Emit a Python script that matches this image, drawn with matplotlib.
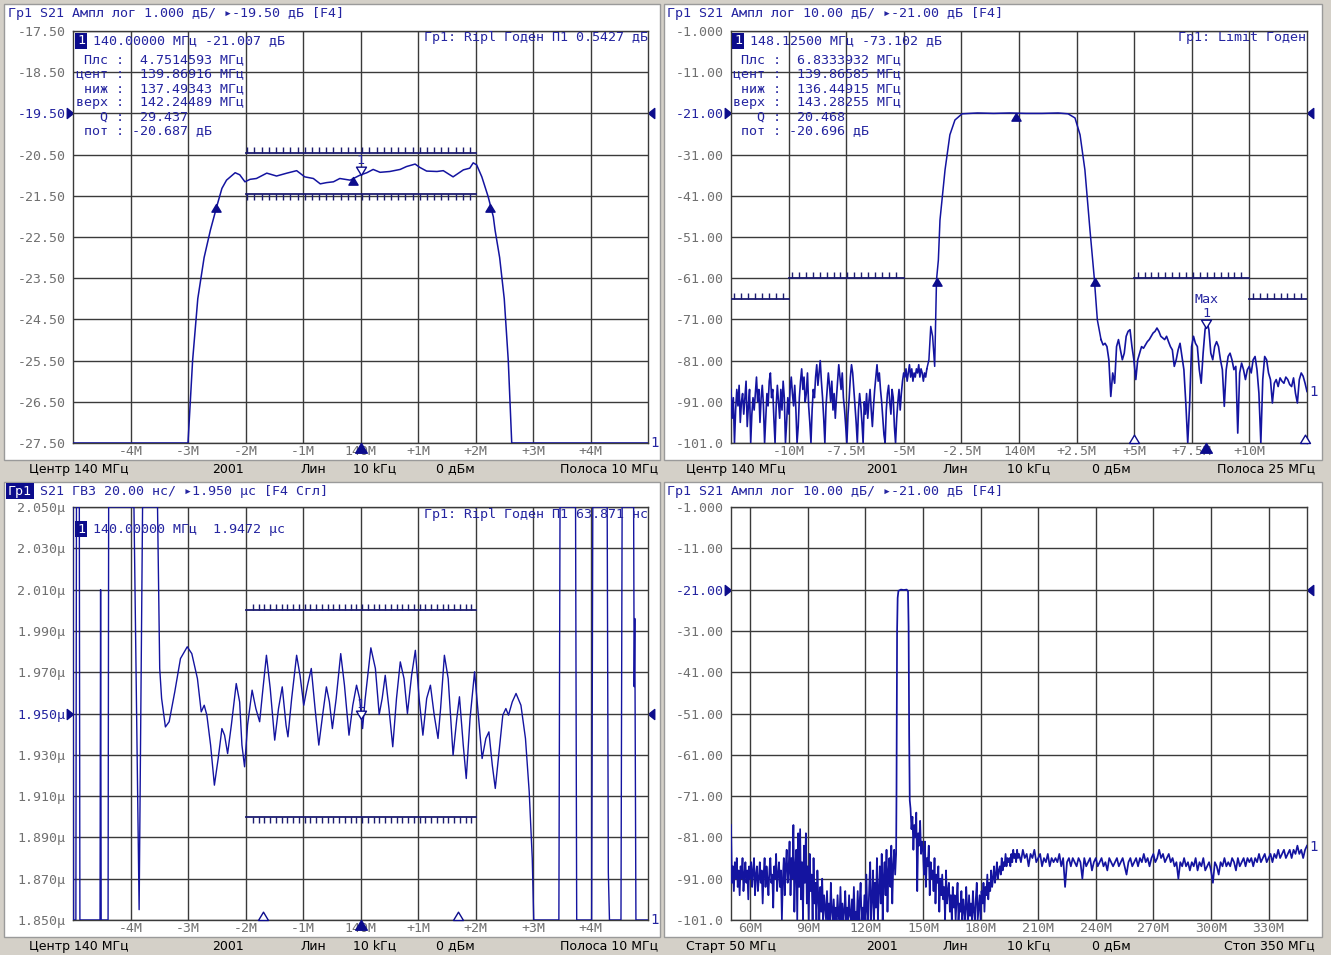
import numpy as np
import matplotlib
matplotlib.use("Agg")
import matplotlib.pyplot as plt
from matplotlib.path import Path
from matplotlib.patches import Rectangle

# ---------------- panel 1: S21 ampl, 1 dB/div, centre 140 MHz span 10 MHz
p1_freq = [135.0, 137.0, 137.08, 137.17, 137.28, 137.39, 137.50, 137.59, 137.67, 137.82,
           137.90, 137.99, 138.08, 138.19, 138.37, 138.54, 138.72, 138.89, 139.03, 139.18,
           139.30, 139.41, 139.53, 139.64, 139.82, 139.99, 140.11, 140.22, 140.34, 140.51,
           140.69, 140.80, 140.95, 141.03, 141.15, 141.33, 141.44, 141.61, 141.79, 141.90,
           141.96, 142.02, 142.11, 142.22, 142.31, 142.34, 142.42, 142.50, 142.57, 142.63,
           145.0]
p1_db = [-27.5, -27.5, -25.5, -24.0, -23.0, -22.33, -21.76, -21.32, -21.12, -20.94,
         -20.99, -21.16, -21.10, -21.08, -20.95, -21.02, -20.95, -20.89, -21.04, -21.08,
         -21.21, -21.18, -21.16, -21.08, -21.12, -21.00, -20.94, -20.86, -20.93, -20.91,
         -20.86, -20.79, -20.73, -20.81, -20.90, -20.91, -20.89, -21.04, -20.87, -20.83,
         -20.70, -20.75, -21.04, -21.52, -22.01, -22.33, -23.0, -24.0, -25.5, -27.5,
         -27.5]
p1_mark = (140.0, -21.007)
p1_bw_f = [137.49343, 142.24489]
p1_bw_db = -21.687
p1_cent = (139.86916, -21.04)
p1_lim_f = [138.0, 142.0]
p1_lim_upper = -20.46
p1_lim_lower = -21.46

# ---------------- panel 2: S21 ampl, 10 dB/div, centre 140 MHz span 25 MHz
p2_left_db = [-88, -95, -90, -101, -93, -88, -92, -87, -96, -91,
              -89, -94, -90, -86, -97, -92, -88, -101, -94, -90,
              -93, -89, -85, -91, -88, -96, -90, -87, -92, -101,
              -95, -89, -92, -86, -84, -90, -88, -95, -101, -92,
              -87, -91, -95, -88, -93, -86, -90, -101, -96, -90,
              -94, -88, -85, -89, -92, -87, -93, -101, -97, -90,
              -86, -83, -88, -85, -91, -89, -84, -92, -96, -101,
              -93, -88, -90, -85, -82, -87, -84, -81, -86, -90,
              -95, -101, -92, -88, -84, -87, -91, -86, -93, -89,
              -95, -90, -86, -82, -85, -88, -84, -90, -93, -97,
              -101, -94, -90, -85, -82, -84, -88, -92, -96, -101,
              -93, -89, -92, -96, -101, -91, -94, -89, -95, -91,
              -88, -93, -97, -92, -88, -85, -82, -86, -84, -88,
              -91, -95, -99, -101, -93, -89, -87, -91, -94, -88,
              -90, -97, -101, -95, -91, -88, -93, -89, -86, -84,
              -85, -83, -86, -84, -82, -85, -83, -86, -84, -85,
              -83, -84, -82, -85, -83, -84, -86, -84, -85, -83]
p2_edge_f = [136.09, 136.17, 136.25, 136.34, 136.42, 136.50, 136.57, 136.79, 137.00, 137.22,
             137.53, 138.20, 138.90, 139.60, 140.30, 141.00, 141.70, 142.13, 142.43, 142.65,
             142.86, 143.08, 143.26, 143.40, 143.56]
p2_edge_db = [-80.8, -72.7, -75.1, -82.4, -61.4, -56.6, -46.9, -34.7, -26.2, -22.6,
              -21.1, -20.9, -21.0, -20.9, -21.0, -21.0, -20.9, -21.1, -22.1, -26.2,
              -34.7, -49.3, -60.5, -71.1, -75.9]
p2_right_db = [-77.2, -76.8, -77.6, -80.8, -89.7, -84.0, -86.5, -77.6, -75.9, -78.4,
               -80.8, -79.2, -75.1, -73.9, -73.5, -77.6, -80.8, -85.6, -80.8, -79.2,
               -77.6, -78.0, -77.2, -76.4, -75.9, -75.1, -74.3, -73.9, -73.1, -73.9,
               -75.1, -75.5, -75.9, -75.1, -76.4, -77.6, -78.4, -82.4, -80.8, -78.4,
               -76.8, -80.0, -83.2, -91.3, -101.0, -91.3, -77.6, -75.1, -76.8, -77.6,
               -83.2, -86.5, -79.2, -73.5, -71.5, -73.5, -79.2, -80.8, -77.6, -76.4,
               -77.6, -80.8, -83.2, -92.1, -83.2, -80.0, -79.2, -80.8, -83.2, -82.4,
               -98.6, -84.0, -81.6, -83.2, -85.6, -83.2, -82.4, -84.0, -80.8, -80.0,
               -83.2, -88.9, -101.0, -85.6, -80.0, -80.8, -84.0, -85.6, -91.3, -86.5,
               -85.6, -87.3, -85.2, -86.0, -86.5, -85.0, -85.6, -86.8, -87.3, -85.2,
               -88.9, -91.3, -85.6, -84.0, -84.8, -86.5, -88.5]
p2_limits = [(127.5, 130.0, -66.0), (130.0, 135.0, -61.0),
             (145.0, 150.0, -61.0), (150.0, 152.5, -66.0)]
p2_mark = (148.125, -73.102)
p2_bw_f = [136.44915, 143.28255]
p2_bw_db = -61.0
p2_cent = (139.86585, -21.0)
p2_open_f = [145.0, 152.4]

# ---------------- panel 3: group delay, 20 ns/div
p3_freq = [135.00, 135.01, 135.05, 135.06, 135.11, 135.12, 135.47, 135.48, 135.49, 135.61,
           135.62, 136.06, 136.15, 136.21, 136.47,
           136.508, 136.541, 136.607, 136.672, 136.770, 136.869, 136.987, 137.066, 137.164, 137.230,
           137.282, 137.328, 137.393, 137.459, 137.525, 137.590, 137.636, 137.689, 137.754, 137.839,
           137.898, 137.938, 137.984, 138.036, 138.115, 138.180, 138.246, 138.298, 138.364, 138.430,
           138.508, 138.574, 138.639, 138.705, 138.738, 138.803, 138.889, 138.948, 139.013, 139.079,
           139.144, 139.210, 139.275, 139.341, 139.407, 139.459, 139.511, 139.577, 139.656, 139.721,
           139.800, 139.866, 139.931, 139.984, 140.036, 140.082, 140.180, 140.259, 140.325, 140.377,
           140.430, 140.495, 140.561, 140.626, 140.692, 140.757, 140.816, 140.889, 140.954, 141.020,
           141.085, 141.151, 141.216, 141.282, 141.348, 141.393, 141.459, 141.525, 141.610, 141.675,
           141.721, 141.787, 141.839, 141.905, 141.984, 142.049, 142.115, 142.180, 142.233, 142.292,
           142.344, 142.410, 142.475, 142.528, 142.574, 142.639, 142.705, 142.790, 142.869, 142.934,
           142.987, 143.013,
           143.45, 143.47, 143.74, 143.76, 144.02, 144.04, 144.29, 144.31, 144.33, 144.53,
           144.55, 144.75, 144.76, 144.77, 144.79, 145.00]
p3_us = [2.050, 1.850, 1.850, 2.050, 2.050, 1.850, 1.850, 2.010, 1.850, 1.850,
         2.050, 2.050, 1.855, 2.050, 2.050,
         1.9718, 1.9573, 1.9435, 1.9460, 1.9605, 1.9766, 1.9823, 1.9790, 1.9669, 1.9508,
         1.9540, 1.9492, 1.9347, 1.9153, 1.9282, 1.9427, 1.9395, 1.9306, 1.9444, 1.9645,
         1.9556, 1.9347, 1.9242, 1.9444, 1.9613, 1.9524, 1.9460, 1.9605, 1.9782, 1.9621,
         1.9371, 1.9524, 1.9629, 1.9444, 1.9387, 1.9573, 1.9782, 1.9685, 1.9540, 1.9637,
         1.9718, 1.9524, 1.9347, 1.9492, 1.9629, 1.9556, 1.9427, 1.9573, 1.9790, 1.9637,
         1.9395, 1.9540, 1.9637, 1.9573, 1.9427, 1.9573, 1.9818, 1.9718, 1.9495, 1.9573,
         1.9685, 1.9524, 1.9339, 1.9573, 1.9750, 1.9669, 1.9500, 1.9685, 1.9806, 1.9573,
         1.9395, 1.9573, 1.9637, 1.9492, 1.9379, 1.9524, 1.9782, 1.9669, 1.9298, 1.9476,
         1.9581, 1.9347, 1.9185, 1.9476, 1.9702, 1.9492, 1.9282, 1.9379, 1.9411, 1.9250,
         1.9137, 1.9314, 1.9492, 1.9524, 1.9492, 1.9556, 1.9597, 1.9540, 1.9379, 1.9121,
         1.8798, 1.8500,
         1.850, 2.050, 2.050, 1.850, 1.850, 2.050, 2.050, 1.873, 1.850, 1.850,
         2.050, 2.050, 1.963, 1.996, 1.850, 1.850]
p3_mark = (140.0, 1.9472)
p3_lim_f = [138.0, 142.0]
p3_lim_upper = 2.000
p3_lim_lower = 1.900
p3_open_f = [138.3, 141.7]

# ---------------- panel 4: S21 ampl, 50..350 MHz
p4_left_db = [-78, -92, -88, -94, -87, -91, -86, -93, -89, -95,
              -88, -91, -86, -94, -90, -87, -92, -89, -96, -88,
              -91, -87, -93, -89, -86, -95, -90, -88, -94, -91,
              -87, -92, -89, -97, -90, -86, -93, -88, -91, -95,
              -89, -86, -92, -90, -98, -88, -91, -85, -94, -90,
              -87, -93, -89, -101, -91, -86, -95, -88, -84, -92,
              -89, -82, -95, -86, -91, -78, -99, -88, -84, -101,
              -80, -93, -79, -96, -87, -101, -83, -92, -80, -97,
              -88, -101, -85, -94, -90, -101, -86, -97, -92, -101,
              -89, -96, -101, -93, -99, -91, -101, -95, -98, -101,
              -94, -101, -97, -101, -92, -99, -101, -96, -101, -98,
              -101, -95, -100, -101, -93, -101, -97, -101, -99, -94,
              -101, -98, -101, -95, -100, -101, -96, -101, -93, -101,
              -99, -101, -94, -101, -97, -92, -101, -98, -101, -95,
              -101, -90, -99, -101, -93, -87, -101, -96, -89, -101,
              -92, -98, -86, -101, -94, -88, -97, -85, -101, -91,
              -87, -95, -84, -99, -89, -86, -93, -83, -97, -88,
              -84, -90]
p4_pass_f = [136.0, 136.2, 136.5, 136.8, 137.2, 138.5, 140.0, 141.5, 142.2, 142.5, 142.8, 143.1]
p4_pass_db = [-85, -70, -31, -23, -21.3, -21.0, -21.1, -21.0, -21.4, -30, -56.6, -72]
p4_mid_db = [-74, -79, -76, -84, -78, -81, -75, -94, -80, -83, -77, -85, -82,
             -84, -90, -82, -93, -86, -88, -83, -95, -87, -91,
             -89, -94, -86, -97, -90, -92, -88, -99, -91, -95,
             -90, -96, -93, -101, -89, -97, -94, -92, -99, -95,
             -101, -93, -98, -95, -101, -96, -92, -101, -97, -99,
             -94, -101, -96, -99, -101, -93, -98, -101, -95, -100,
             -97, -101, -94, -99, -101, -96, -92, -101, -98, -95,
             -101, -94, -97, -92, -99, -93, -95, -90, -96, -92,
             -94, -89, -93, -91, -88, -92, -90, -87, -91, -89,
             -88, -90, -86, -89, -87, -88, -85, -88, -86, -87,
             -86, -88, -85, -87, -84, -86, -85, -87, -84, -86]
p4_right_db = [-85, -87, -84, -86, -85, -88, -85, -86, -84, -87,
               -86, -85, -88, -86, -87, -85, -88, -86, -87, -86,
               -87, -85, -88, -86, -93, -87, -86, -88, -86, -87,
               -88, -86, -87, -91, -86, -88, -87, -86, -89, -87,
               -86, -88, -87, -86, -88, -87, -89, -86, -87, -88,
               -87, -86, -88, -87, -86, -88, -90, -87, -86, -88,
               -87, -86, -88, -86, -87, -85, -87, -86, -88, -86,
               -85, -87, -86, -84, -86, -85, -87, -86, -85, -87,
               -86, -88, -87, -91, -87, -88, -86, -88, -87, -89,
               -87, -88, -86, -89, -87, -88, -86, -89, -88, -87,
               -89, -92, -87, -88, -90, -87, -88, -86, -88, -87,
               -88, -86, -87, -89, -86, -88, -87, -86, -88, -86,
               -87, -86, -88, -86, -87, -85, -87, -86, -85, -87,
               -86, -85, -87, -85, -86, -84, -86, -85, -84, -86,
               -85, -84, -86, -84, -85, -83, -85, -84, -86, -84, -83]

# axis labels
mag1_ylabels = ["-17.50", "-18.50", "-19.50", "-20.50", "-21.50", "-22.50",
                "-23.50", "-24.50", "-25.50", "-26.50", "-27.50"]
mag10_ylabels = ["-1.000", "-11.00", "-21.00", "-31.00", "-41.00", "-51.00",
                 "-61.00", "-71.00", "-81.00", "-91.00", "-101.0"]
gd_ylabels = ["2.050μ", "2.030μ", "2.010μ", "1.990μ", "1.970μ", "1.950μ",
              "1.930μ", "1.910μ", "1.890μ", "1.870μ", "1.850μ"]
span10_xlabels = ["-4M", "-3M", "-2M", "-1M", "140M", "+1M", "+2M", "+3M", "+4M"]
span25_xlabels = ["-10M", "-7.5M", "-5M", "-2.5M", "140M", "+2.5M", "+5M", "+7.5M", "+10M"]
full_xlabels = ["60M", "90M", "120M", "150M", "180M", "210M", "240M", "270M", "300M", "330M"]

W, H = 1331, 955
MONO = ["DejaVu Sans Mono", "DejaVu Sans"]
FS = 9.65
BLUE = "#2424a0"
NAVY = "#0c0c8c"
TRACE = "#1414a0"
LIM = "#1c1c70"
GRID = "#3a3a3a"
GRAY = "#707070"
PANEL_BG = "#d4d0c8"

fig = plt.figure(figsize=(W / 100, H / 100), dpi=100, facecolor=PANEL_BG)

bg = fig.add_axes([0, 0, 1, 1], zorder=0)
bg.set_xlim(0, W)
bg.set_ylim(H, 0)
bg.axis("off")
for x0, y0, x1, y1 in [(4, 4, 660, 460), (664, 4, 1322, 460), (4, 482, 660, 937), (664, 482, 1322, 937)]:
    bg.add_patch(Rectangle((x0, y0), x1 - x0, y1 - y0, fc="white", ec="#9a9a9a", lw=1))

ov = fig.add_axes([0, 0, 1, 1], zorder=10)
ov.set_xlim(0, W)
ov.set_ylim(H, 0)
ov.axis("off")
ov.patch.set_alpha(0)

codes = [Path.MOVETO, Path.LINETO, Path.LINETO, Path.CLOSEPOLY]
tip_up = Path([(0, 0), (0.6, -1), (-0.6, -1), (0, 0)], codes)
tip_down = Path([(0, 0), (0.6, 1), (-0.6, 1), (0, 0)], codes)
base_up = Path([(0, 1), (0.6, 0), (-0.6, 0), (0, 1)], codes)
point_right = Path([(0, 0), (-1, 0.8), (-1, -0.8), (0, 0)], codes)
point_left = Path([(0, 0), (1, 0.8), (1, -0.8), (0, 0)], codes)


def pax(x0, y0, x1, y1):
    return fig.add_axes([x0 / W, 1 - y1 / H, (x1 - x0) / W, (y1 - y0) / H], zorder=2)


def setup(ax, xlim, ylim, xticks, xlabels, ylabels, ref_idx):
    ax.set_facecolor("none")
    ax.set_xlim(xlim)
    ax.set_ylim(ylim)
    ax.set_xticks(xticks)
    ax.set_xticklabels(xlabels)
    ax.set_yticks(np.linspace(ylim[1], ylim[0], len(ylabels)))
    ax.set_yticklabels(ylabels)
    ax.tick_params(length=0, labelsize=9.5, labelcolor=GRAY, labelfontfamily="DejaVu Sans Mono")
    ax.tick_params(axis="x", pad=1.5)
    ax.tick_params(axis="y", pad=5.5)
    ax.get_yticklabels()[ref_idx].set_color(BLUE)
    ax.grid(True, color=GRID, lw=1)
    ax.set_axisbelow(True)
    for s in ax.spines.values():
        s.set_color(GRID)
        s.set_linewidth(1)
    ref = ax.get_yticks()[ref_idx]
    ax.plot([xlim[0]], [ref], marker=point_right, ms=9, color=NAVY, ls="none", clip_on=False)
    ax.plot([xlim[1]], [ref], marker=point_left, ms=9, color=NAVY, ls="none", clip_on=False)


def limit(ax, x0, x1, y, step, up, first):
    ax.plot([x0, x1], [y, y], color=LIM, lw=1.3, zorder=3)
    lo, hi = ax.get_ylim()
    dy = 6.0 / ax.bbox.height * (hi - lo) * (1 if up else -1)
    xs = np.arange(x0 + first, x1 - 0.05, step)
    ax.vlines(xs, y, y + dy, color=LIM, lw=1, zorder=3)


def mark(ax, x, y, path, ms=11, open_=False):
    ax.plot([x], [y], marker=path, ms=ms, ls="none", clip_on=False, zorder=6,
            color=NAVY, mfc="white" if open_ else NAVY, mec=NAVY, mew=1)


def label_marker(ax, x, y, extra=None):
    mark(ax, x, y, tip_down, ms=12, open_=True)
    ax.annotate("1", (x, y), xytext=(0, 15), textcoords="offset pixels", ha="center",
                va="center", color=BLUE, fontsize=FS, family=MONO, zorder=6)
    if extra:
        ax.annotate(extra, (x, y), xytext=(0, 29), textcoords="offset pixels", ha="center",
                    va="center", color=BLUE, fontsize=FS, family=MONO, zorder=6)


def txt(x, y, s, **kw):
    kw.setdefault("color", BLUE)
    kw.setdefault("fontsize", FS)
    kw.setdefault("family", MONO)
    ov.text(x, y, s, va="center", **kw)


def boxed(x, y, s):
    ov.text(x, y, s, va="center", color="white", fontsize=FS, family=MONO,
            bbox=dict(boxstyle="square,pad=0.12", fc=NAVY, ec="none"))


# ---------------- panel 1
ax1 = pax(73, 31, 648, 443)
setup(ax1, (135, 145), (-27.5, -17.5), np.arange(136, 145), span10_xlabels, mag1_ylabels, 2)
limit(ax1, p1_lim_f[0], p1_lim_f[1], p1_lim_upper, 0.125, True, 0.03)
limit(ax1, p1_lim_f[0], p1_lim_f[1], p1_lim_lower, 0.125, False, 0.03)
ax1.plot(p1_freq, p1_db, color=TRACE, lw=1.1, zorder=4)
for f in p1_bw_f:
    mark(ax1, f, p1_bw_db, tip_up)
mark(ax1, p1_cent[0], p1_cent[1], tip_up)
label_marker(ax1, *p1_mark)
mark(ax1, p1_mark[0], -27.5, tip_up, ms=14)

# ---------------- panel 2
ax2 = pax(731, 31, 1307, 443)
setup(ax2, (127.5, 152.5), (-101, -1), np.arange(130, 151, 2.5), span25_xlabels, mag10_ylabels, 2)
for x0, x1, y in p2_limits:
    limit(ax2, x0, x1, y, 0.3, True, 0.15)
ax2.plot(np.linspace(127.5, 136.0, len(p2_left_db)), p2_left_db, color=TRACE, lw=1.2, zorder=4)
ax2.plot([136.0] + p2_edge_f, [p2_left_db[-1]] + p2_edge_db, color=TRACE, lw=1.1, zorder=4)
ax2.plot([p2_edge_f[-1]] + list(np.linspace(143.65, 152.5, len(p2_right_db))),
         [p2_edge_db[-1]] + p2_right_db, color=TRACE, lw=1.2, zorder=4)
for f in p2_bw_f:
    mark(ax2, f, p2_bw_db, tip_up)
mark(ax2, p2_cent[0], p2_cent[1], tip_up)
label_marker(ax2, *p2_mark, extra="Max")
mark(ax2, p2_mark[0], -101, tip_up, ms=14)
for f in p2_open_f:
    mark(ax2, f, -101, base_up, ms=12, open_=True)

# ---------------- panel 3
ax3 = pax(73, 507, 648, 920)
setup(ax3, (135, 145), (1.850, 2.050), np.arange(136, 145), span10_xlabels, gd_ylabels, 5)
limit(ax3, p3_lim_f[0], p3_lim_f[1], p3_lim_upper, 0.1, True, 0.13)
limit(ax3, p3_lim_f[0], p3_lim_f[1], p3_lim_lower, 0.1, False, 0.13)
ax3.plot(p3_freq, p3_us, color=TRACE, lw=1.0, zorder=4)
label_marker(ax3, *p3_mark)
mark(ax3, p3_mark[0], 1.850, tip_up, ms=14)
for f in p3_open_f:
    mark(ax3, f, 1.850, base_up, ms=12, open_=True)

# ---------------- panel 4
ax4 = pax(731, 507, 1307, 920)
setup(ax4, (50, 350), (-101, -1), np.arange(60, 331, 30), full_xlabels, mag10_ylabels, 2)
left_f = list(np.arange(50, 136, 0.5))
mid_f = list(np.arange(143.5, 200, 0.5))
right_f = list(np.arange(200, 351, 1.0))
ax4.plot(left_f + p4_pass_f + mid_f + right_f,
         p4_left_db + p4_pass_db + p4_mid_db + p4_right_db, color=TRACE, lw=1.25, zorder=4)

# trace number labels at the right edge
txt(650, 443, "1", fontsize=10)
txt(1309, 392, "1", fontsize=10)
txt(650, 920, "1", fontsize=10)
txt(1309, 847, "1", fontsize=10)

# ---------------- header lines
txt(8, 14, "Гр1 S21 Ампл лог 1.000 дБ/ ▸-19.50 дБ [F4]")
txt(667, 14, "Гр1 S21 Ампл лог 10.00 дБ/ ▸-21.00 дБ [F4]")
boxed(8, 491, "Гр1")
txt(8 + 3 * 8.05, 491, " S21 ГВЗ 20.00 нс/ ▸1.950 μс [F4 Сгл]")
txt(667, 491, "Гр1 S21 Ампл лог 10.00 дБ/ ▸-21.00 дБ [F4]")

# ---------------- marker / limit readouts
txt(648, 37, "Гр1: Ripl Годен П1 0.5427 дБ", ha="right")
txt(1306, 37, "Гр1: Limit Годен", ha="right")
txt(648, 514, "Гр1: Ripl Годен П1 63.871 нс", ha="right")

boxed(77, 41, "1")
txt(93, 41, "140.00000 МГц -21.007 дБ")
boxed(734, 41, "1")
txt(750, 41, "148.12500 МГц -73.102 дБ")
boxed(77, 529, "1")
txt(93, 529, "140.00000 МГц  1.9472 μс")

rows1 = [" Плс :  4.7514593 МГц", "цент :  139.86916 МГц", " ниж :  137.49343 МГц",
         "верх :  142.24489 МГц", "   Q :  29.437", " пот : -20.687 дБ"]
rows2 = [" Плс :  6.8333932 МГц", "цент :  139.86585 МГц", " ниж :  136.44915 МГц",
         "верх :  143.28255 МГц", "   Q :  20.468", " пот : -20.696 дБ"]
for i, (a, b) in enumerate(zip(rows1, rows2)):
    txt(76, 60 + i * 14.2, a)
    txt(733, 60 + i * 14.2, b)

# ---------------- status bars
STAT = dict(color="black", fontsize=9, family="DejaVu Sans")
for y, left, right in [(469, "Центр 140 МГц", "Полоса 10 МГц"), (946, "Центр 140 МГц", "Полоса 10 МГц")]:
    ov.text(29, y, left, va="center", **STAT)
    ov.text(228, y, "2001", va="center", ha="center", **STAT)
    ov.text(313, y, "Лин", va="center", ha="center", **STAT)
    ov.text(375, y, "10 kГц", va="center", ha="center", **STAT)
    ov.text(455, y, "0 дБм", va="center", ha="center", **STAT)
    ov.text(658, y, right, va="center", ha="right", **STAT)
for y, left, right in [(469, "Центр 140 МГц", "Полоса 25 МГц"), (946, "Старт 50 МГц", "Стоп 350 МГц")]:
    ov.text(686, y, left, va="center", **STAT)
    ov.text(882, y, "2001", va="center", ha="center", **STAT)
    ov.text(955, y, "Лин", va="center", ha="center", **STAT)
    ov.text(1029, y, "10 kГц", va="center", ha="center", **STAT)
    ov.text(1111, y, "0 дБм", va="center", ha="center", **STAT)
    ov.text(1315, y, right, va="center", ha="right", **STAT)

fig.savefig("out.png", dpi=100, facecolor=PANEL_BG)
